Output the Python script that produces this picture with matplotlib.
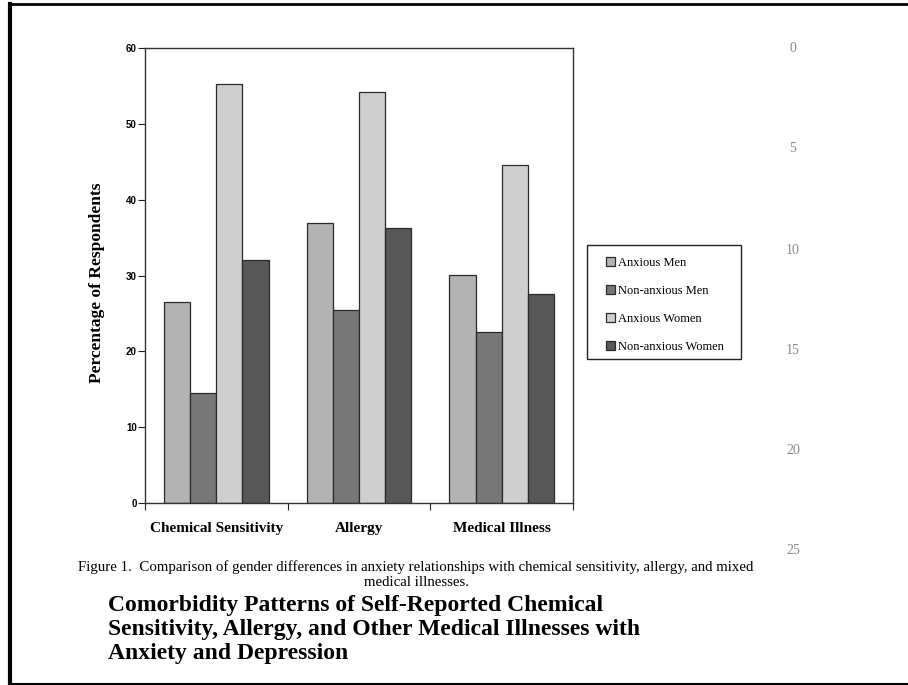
import matplotlib.pyplot as plt
from matplotlib.patches import Rectangle
import numpy as np

# data
categories = ['Chemical Sensitivity', 'Allergy', 'Medical Illness']
groups = ['Anxious Men', 'Non-anxious Men', 'Anxious Women', 'Non-anxious Women']
anxious_men = [26.5, 36.9, 30.1]
nonanxious_men = [14.5, 25.4, 22.5]
anxious_women = [55.2, 54.2, 44.6]
nonanxious_women = [32.0, 36.2, 27.6]
page_lines = [0, 5, 10, 15, 20, 25]

series = [anxious_men, nonanxious_men, anxious_women, nonanxious_women]
colors = ['#b3b3b3', '#777777', '#cfcfcf', '#575757']

serif = ['Liberation Serif', 'DejaVu Serif']
sans = ['Liberation Sans', 'DejaVu Sans']

W, H = 908, 685
fig = plt.figure(figsize=(W / 100, H / 100), dpi=100)
ax = fig.add_axes([145 / W, 1 - 503 / H, 428 / W, 455 / H])

x = np.arange(len(categories))
w = 0.183
for i, (vals, c, name) in enumerate(zip(series, colors, groups)):
    ax.bar(x + (i - 1.5) * w, vals, w, color=c, edgecolor='#2a2a2a',
           linewidth=0.9, label=name)

ax.set_xlim(-0.5, 2.5)
ax.set_ylim(0, 60)
ax.set_yticks(range(0, 61, 10))
ax.set_xticks([-0.5, 0.5, 1.5, 2.5])
ax.set_xticklabels([])
ax.set_xticks(x, minor=True)
ax.set_xticklabels(categories, minor=True, fontfamily=serif,
                   fontweight='bold', fontsize=11)
ax.tick_params(axis='x', which='minor', length=0, pad=14)
ax.tick_params(axis='x', which='major', length=5, color='#222222', direction='out')
ax.tick_params(axis='y', length=5, pad=1, color='#222222')
for lab in ax.get_yticklabels():
    lab.set_fontfamily(sans)
    lab.set_fontweight('bold')
    lab.set_fontsize(7)
for s in ax.spines.values():
    s.set_color('#333333')
    s.set_linewidth(1.0)

ax.set_ylabel('Percentage of Respondents', fontfamily=serif,
              fontweight='bold', fontsize=12.5)
ax.yaxis.set_label_coords(-0.0935, 0.484)

# legend: entries without frame, box drawn separately
leg = fig.legend(loc='upper left', bbox_to_anchor=(606 / W, 1 - 257 / H),
                 prop={'family': serif, 'size': 9}, frameon=False,
                 handlelength=0.7, handleheight=0.7, handletextpad=0.3,
                 labelspacing=1.27, borderpad=0, borderaxespad=0)
fig.add_artist(Rectangle((587 / W, 1 - 359 / H), 154 / W, 114 / H,
                         transform=fig.transFigure, fill=False,
                         edgecolor='#222222', linewidth=1.0))

# page line numbers on the right
for n, yp in zip(page_lines, [48, 148, 250, 350, 451, 551]):
    fig.text(793 / W, 1 - yp / H, str(n), fontfamily=serif, fontsize=10,
             color='#8a8a8a', ha='center', va='center')

fig.text(416 / W, 1 - 567 / H,
         'Figure 1.  Comparison of gender differences in anxiety relationships '
         'with chemical sensitivity, allergy, and mixed',
         fontfamily=serif, fontsize=10.75, ha='center', va='center')
fig.text(416 / W, 1 - 582 / H, 'medical illnesses.',
         fontfamily=serif, fontsize=10.75, ha='center', va='center')
fig.text(108 / W, 1 - 595 / H,
         'Comorbidity Patterns of Self-Reported Chemical\n'
         'Sensitivity, Allergy, and Other Medical Illnesses with\n'
         'Anxiety and Depression',
         fontfamily=serif, fontweight='bold', fontsize=17, ha='left',
         va='top', linespacing=1.2)

# scanned page border
fig.add_artist(plt.Line2D([10 / W, 10 / W], [0, 1 - 4 / H],
                          color='black', linewidth=3))
fig.add_artist(plt.Line2D([10 / W, 1], [1 - 4 / H, 1 - 4 / H],
                          color='black', linewidth=2))
fig.add_artist(plt.Line2D([10 / W, 1], [1 / H, 1 / H],
                          color='black', linewidth=1.5))

plt.savefig('out.png', dpi=100)
